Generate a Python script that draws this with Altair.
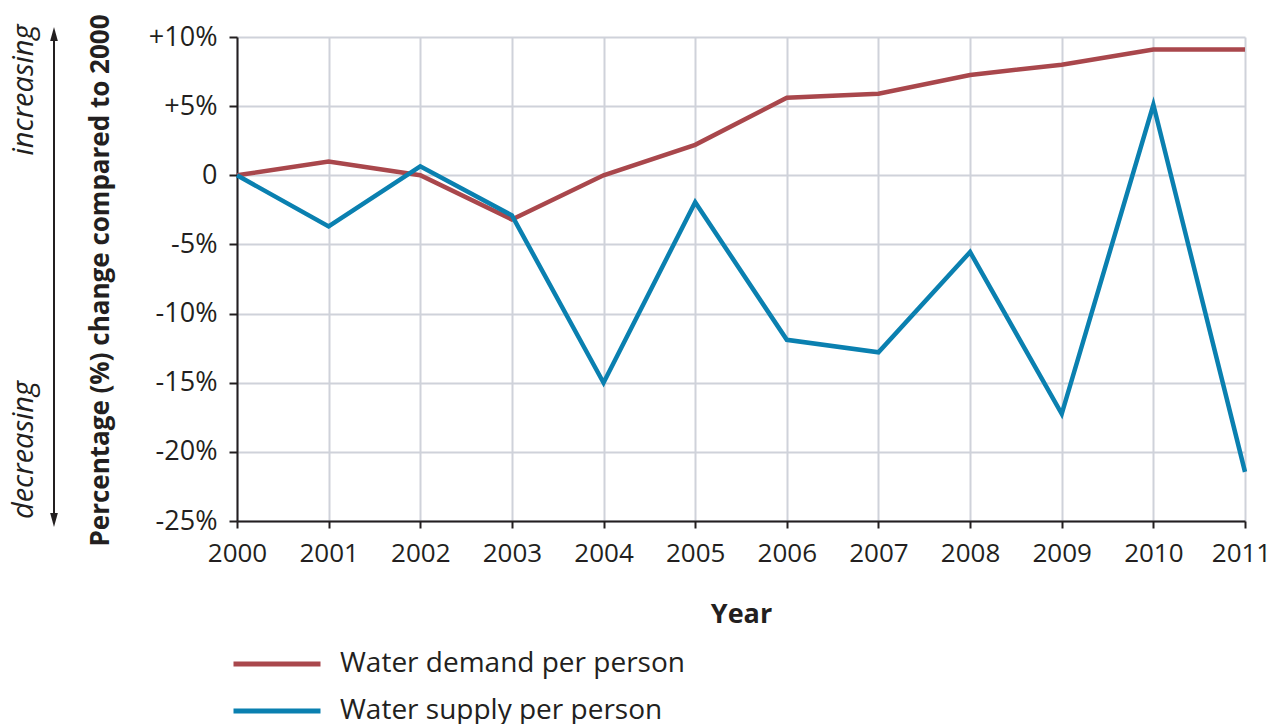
import altair as alt
import pandas as pd

years = list(range(2000, 2012))
demand = [0, 1.0, 0, -3.2, 0, 2.2, 5.6, 5.9, 7.25, 8.0, 9.1, 9.1]
supply = [0, -3.7, 0.65, -2.9, -15.0, -1.95, -11.9, -12.8, -5.55, -17.25, 5.1, -21.45]
series_names = ["Water demand per person", "Water supply per person"]
series_colors = ["#a9474c", "#0a80b0"]
y_ticks = [10, 5, 0, -5, -10, -15, -20, -25]

rows = []
for yr, d, s in zip(years, demand, supply):
    rows.append({"year": yr, "value": d, "series": series_names[0]})
    rows.append({"year": yr, "value": s, "series": series_names[1]})
df = pd.DataFrame(rows)

FONT = "Open Sans"
DARK = "#231f20"
GRID = "#cfd2da"

label_expr = "datum.value > 0 ? '+' + datum.value + '%' : (datum.value == 0 ? '0' : datum.value + '%')"

lines = alt.Chart(df).mark_line(strokeWidth=4.5, strokeJoin="miter", strokeCap="butt").encode(
    x=alt.X("year:Q",
            scale=alt.Scale(domain=[2000, 2011], nice=False, zero=False),
            axis=alt.Axis(values=years, format="d", title="Year", labelFlush=False,
                          labelFont=FONT, labelFontSize=26, labelColor=DARK, labelPadding=12,
                          labelOffset={"condition": {"test": "datum.value == 2011", "value": -4}, "value": 0},
                          tickSize=7, tickColor=DARK, tickWidth=2, domainColor=DARK, domainWidth=2,
                          gridColor=GRID, gridWidth=2,
                          titleFont=FONT, titleFontSize=27, titleFontWeight="bold", titleColor=DARK,
                          titleY=101, titleBaseline="alphabetic")),
    y=alt.Y("value:Q",
            scale=alt.Scale(domain=[-25, 10], nice=False),
            axis=alt.Axis(values=y_ticks, labelExpr=label_expr, title="Percentage (%) change compared to 2000",
                          labelFont=FONT, labelFontSize=27, labelColor=DARK, labelPadding=12,
                          tickSize=8, tickColor=DARK, tickWidth=2, domainColor=DARK, domainWidth=2,
                          gridColor=GRID, gridWidth=2,
                          titleFont=FONT, titleFontSize=26, titleFontWeight="bold", titleColor=DARK,
                          titleX=-129, titleY=243, titleAngle=270, titleAlign="center",
                          titleBaseline="alphabetic")),
    color=alt.Color("series:N",
                    scale=alt.Scale(domain=series_names, range=series_colors),
                    legend=alt.Legend(title=None, orient="none", legendX=26, legendY=613,
                                      symbolType="M-4,0H4", symbolSize=473, symbolStrokeWidth=5,
                                      symbolFillColor="transparent",
                                      labelFont=FONT, labelFontSize=28, labelColor=DARK,
                                      labelOffset=49, rowPadding=19, labelLimit=600, padding=0)),
)

inc = alt.Chart(pd.DataFrame({"t": ["increasing"]})).mark_text(
    font=FONT, fontSize=29, fontStyle="italic", angle=270, align="center", baseline="middle", color=DARK
).encode(text="t:N", x=alt.value(-213), y=alt.value(53))

dec = alt.Chart(pd.DataFrame({"t": ["decreasing"]})).mark_text(
    font=FONT, fontSize=29, fontStyle="italic", angle=270, align="center", baseline="middle", color=DARK
).encode(text="t:N", x=alt.value(-213), y=alt.value(413))

arrow_line = alt.Chart(pd.DataFrame({"a": [0]})).mark_rule(color=DARK, strokeWidth=2).encode(
    x=alt.value(-183), y=alt.value(-6), y2=alt.value(484))
arrow_up = alt.Chart(pd.DataFrame({"a": [0]})).mark_point(
    shape="M0,-1L0.55,1L-0.55,1Z", filled=True, color=DARK, opacity=1, size=196
).encode(x=alt.value(-183), y=alt.value(-3))
arrow_dn = alt.Chart(pd.DataFrame({"a": [0]})).mark_point(
    shape="M0,1L0.55,-1L-0.55,-1Z", filled=True, color=DARK, opacity=1, size=196
).encode(x=alt.value(-183), y=alt.value(483))

chart = alt.layer(lines, inc, dec, arrow_line, arrow_up, arrow_dn).properties(
    width=1008, height=484,
    autosize=alt.AutoSizeParams(type="none"),
    padding={"left": 229, "top": 29, "right": 25, "bottom": 208},
).configure_view(stroke=None)

chart.save("out.html", embed_options={"renderer": "svg", "actions": False})
